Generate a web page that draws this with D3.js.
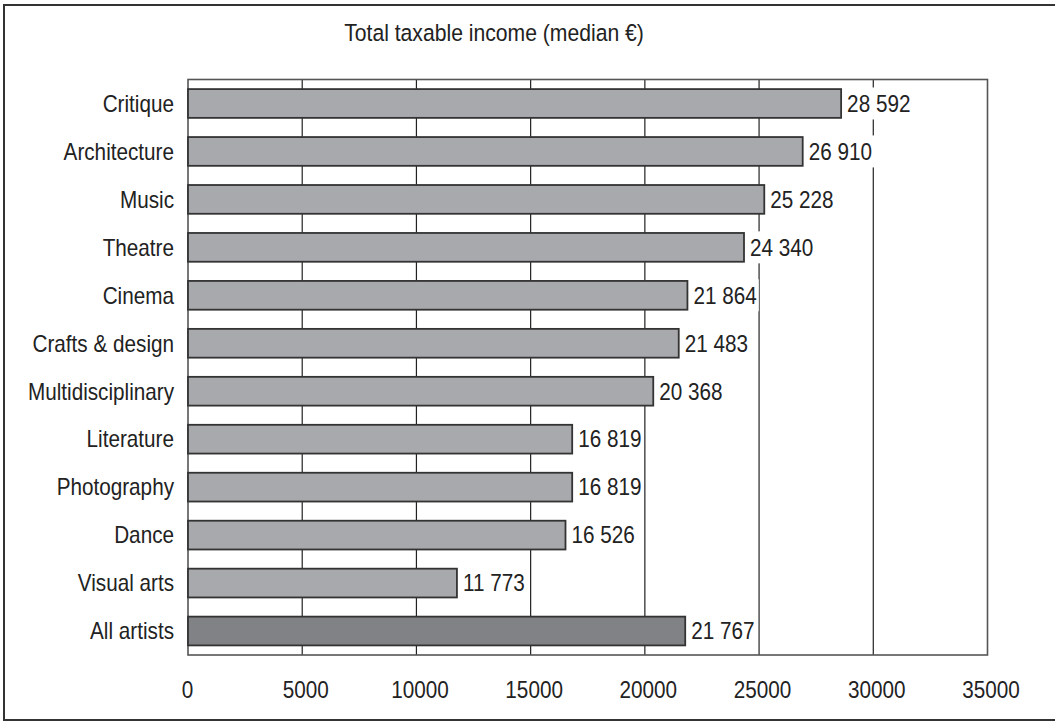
<!DOCTYPE html>
<html>
<head>
<meta charset="utf-8">
<script src="https://cdn.jsdelivr.net/npm/d3@7"></script>
<style>
  body { margin: 0; background: #fff; }
  svg text { font-family: "Liberation Sans", Arial, sans-serif; fill: #222; }
</style>
</head>
<body>
<svg id="chart" width="1055" height="722"></svg>
<script>
const categories = ["Critique", "Architecture", "Music", "Theatre", "Cinema", "Crafts & design",
  "Multidisciplinary", "Literature", "Photography", "Dance", "Visual arts", "All artists"];
const values = [28592, 26910, 25228, 24340, 21864, 21483, 20368, 16819, 16819, 16526, 11773, 21767];
const valueLabels = ["28 592", "26 910", "25 228", "24 340", "21 864", "21 483", "20 368",
  "16 819", "16 819", "16 526", "11 773", "21 767"];
const xTicks = [0, 5000, 10000, 15000, 20000, 25000, 30000, 35000];
const title = "Total taxable income (median €)";

const svg = d3.select("#chart");
const margin = { left: 188, right: 1055 - 987.5, top: 79.5, bottom: 722 - 655 };
const W = 1055, H = 722;
const FS = 23, SX = 0.9; // condensed look: horizontal squeeze

function ctext(parent, px, py, str, anchor, size) {
  const g = parent.append("g").attr("transform", `translate(${px},${py}) scale(${SX},1)`);
  return g.append("text").attr("x", 0).attr("y", 0).attr("text-anchor", anchor || "start")
    .style("font-size", (size || FS) + "px").text(str);
}

// outer frame
svg.append("rect").attr("x", 4).attr("y", 5).attr("width", 1070).attr("height", 715)
  .attr("fill", "none").attr("stroke", "#333").attr("stroke-width", 2);

const x = d3.scaleLinear().domain([0, 35000]).range([margin.left, W - margin.right]);
const y = d3.scaleBand().domain(categories).range([margin.top, H - margin.bottom])
  .paddingInner(0.4).paddingOuter(0.2);

// title
ctext(svg, 494, 41, title, "middle", 23.5);

// gridlines
svg.append("g").selectAll("line").data(xTicks.filter(t => t > 0 && t < 35000)).join("line")
  .attr("x1", d => x(d)).attr("x2", d => x(d))
  .attr("y1", margin.top).attr("y2", H - margin.bottom)
  .attr("stroke", "#222").attr("stroke-width", 1.2);

// plot frame
svg.append("rect").attr("x", margin.left).attr("y", margin.top)
  .attr("width", x(35000) - margin.left).attr("height", H - margin.bottom - margin.top)
  .attr("fill", "none").attr("stroke", "#555").attr("stroke-width", 1.6);

// bars
svg.append("g").selectAll("rect").data(categories).join("rect")
  .attr("x", x(0)).attr("y", d => y(d))
  .attr("width", (d, i) => x(values[i]) - x(0)).attr("height", y.bandwidth())
  .attr("fill", d => d === "All artists" ? "#808285" : "#a7a9ac")
  .attr("stroke", "#333").attr("stroke-width", 1.8);

// value labels with white background
const lg = svg.append("g");
categories.forEach((c, i) => {
  const g = lg.append("g");
  const bg = g.append("rect").attr("fill", "#fff");
  const tx = x(values[i]) + 6, ty = y(c) + y.bandwidth() / 2;
  const t = ctext(g, tx, ty, valueLabels[i], "start").attr("dy", "0.36em");
  const bb = t.node().getBBox();
  bg.attr("x", tx - 2).attr("y", ty - 16)
    .attr("width", bb.width * SX + 4).attr("height", 32);
});

// category labels
const cg = svg.append("g");
categories.forEach(c => {
  ctext(cg, margin.left - 14, y(c) + y.bandwidth() / 2, c, "end").attr("dy", "0.36em");
});

// x axis tick labels (axis generator for positions, then condensed text)
const axis = d3.axisBottom(x).tickValues(xTicks).tickSize(0).tickPadding(0).tickFormat(d3.format("d"));
const ax = svg.append("g").attr("transform", `translate(0, 698)`).call(axis);
ax.select(".domain").remove();
ax.selectAll(".tick").each(function(d) {
  const tk = d3.select(this);
  const lbl = tk.select("text").text();
  tk.select("text").remove();
  tk.append("g").attr("transform", `translate(${d === 0 ? -1 : 3},0) scale(${SX},1)`)
    .append("text").attr("text-anchor", "middle").attr("fill", "#222")
    .style("font-size", FS + "px").style("font-family", "'Liberation Sans', Arial, sans-serif")
    .text(lbl);
});
</script>
</body>
</html>
